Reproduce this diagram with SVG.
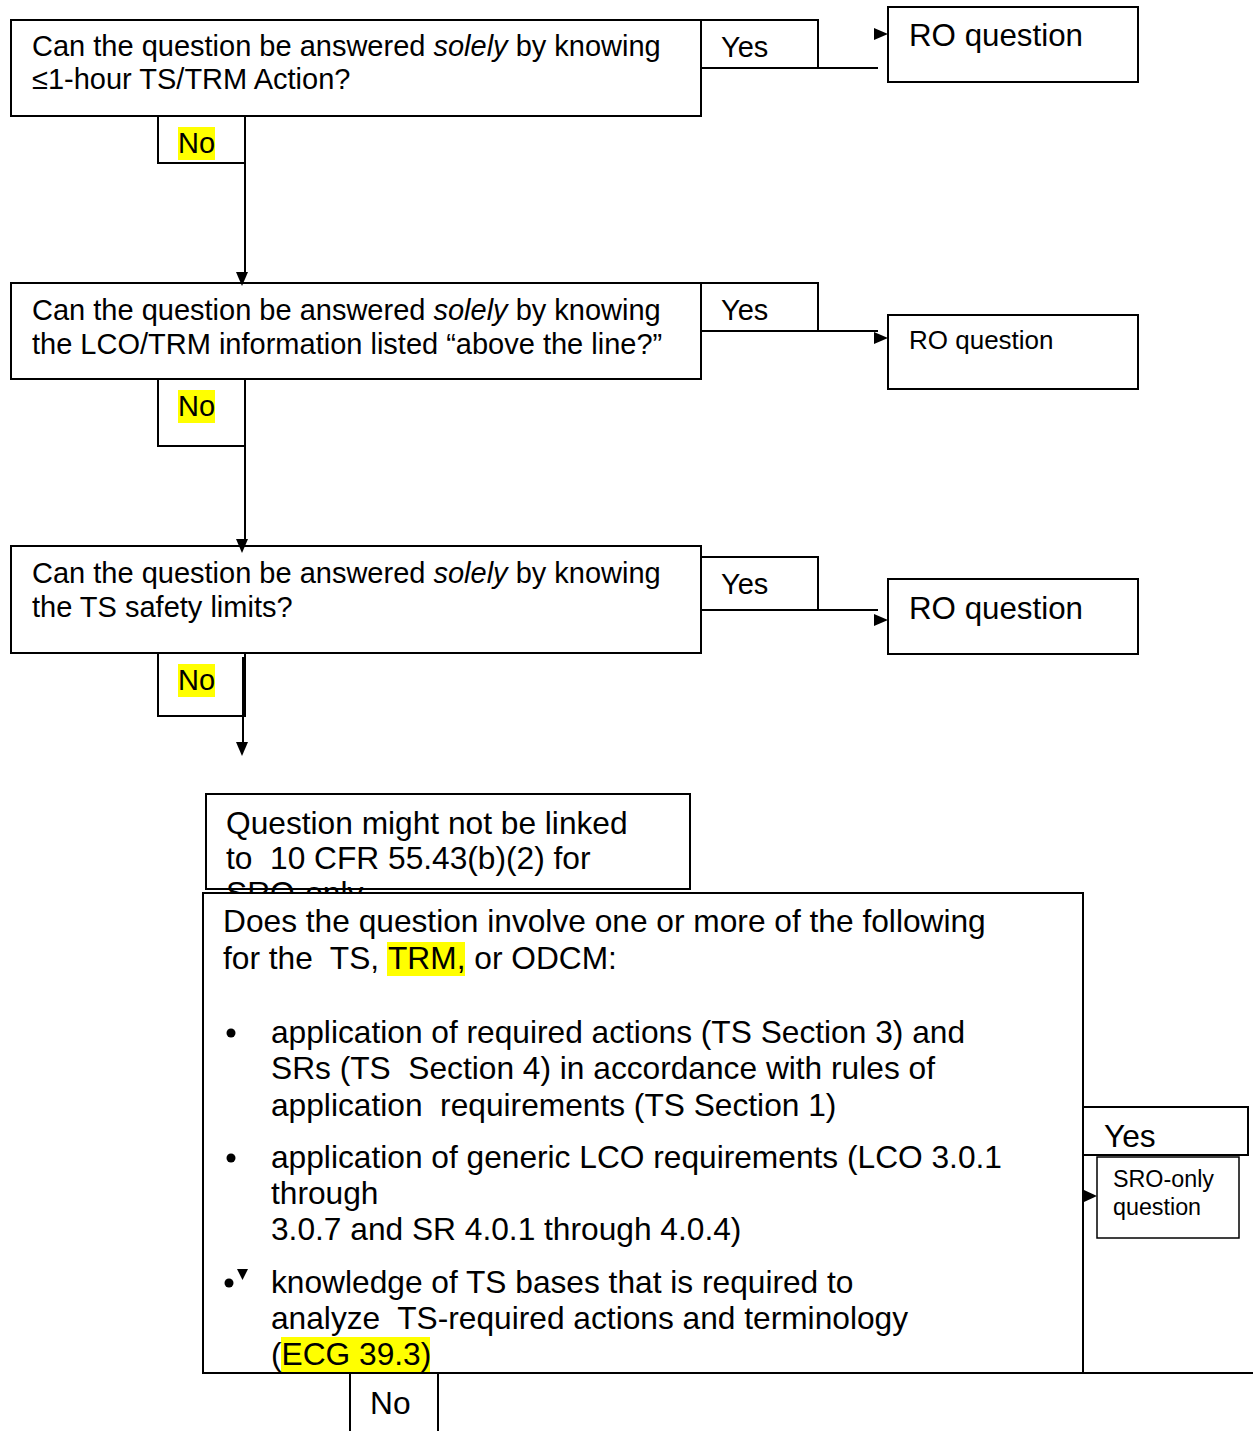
<svg xmlns="http://www.w3.org/2000/svg" width="1253" height="1431" viewBox="0 0 1253 1431">
  <style>
    text { font-family: "Liberation Sans", Arial, sans-serif; fill: #000; }
    .box { fill: #fff; stroke: #000; stroke-width: 2; }
    .tab { fill: none; stroke: #000; stroke-width: 2; }
    .thin { fill: #fff; stroke: #000; stroke-width: 1.5; }
    .line { fill: none; stroke: #000; stroke-width: 2; }
    .hl { fill: #ffff00; }
    .q { font-size: 29px; }
    .big { font-size: 31.7px; }
    .ro { font-size: 31.3px; }
    .ro-s { font-size: 26px; }
    .small { font-size: 23.3px; }
    .head { fill: #000; }
  </style>
  <defs>
    <!-- the note's overflowing last line only shows above the next box -->
    <clipPath id="note-clip">
      <rect x="206" y="860" width="484" height="32"/>
    </clipPath>
  </defs>

  <!-- Step 1: one-hour action check -->
  <g id="q1">
    <rect class="box" x="11" y="20" width="690" height="96"/>
    <text class="q" x="32" y="56">Can the question be answered <tspan font-style="italic">solely</tspan> by knowing</text>
    <text class="q" x="32" y="89">≤1-hour TS/TRM Action?</text>
  </g>
  <g id="q1-yes">
    <rect class="tab" x="701" y="20" width="117" height="48"/>
    <text class="q" x="721" y="57">Yes</text>
  </g>
  <g id="q1-no">
    <path class="tab" d="M158 116 V163 H245 V116"/>
    <rect class="hl" x="178" y="127" width="37" height="33"/>
    <text class="q" x="178" y="153">No</text>
  </g>
  <g id="ro1">
    <rect class="box" x="888" y="7" width="250" height="75"/>
    <text class="ro" x="909" y="46">RO question</text>
  </g>

  <!-- Step 2: above-the-line LCO/TRM information -->
  <g id="q2">
    <rect class="box" x="11" y="283" width="690" height="96"/>
    <text class="q" x="32" y="320">Can the question be answered <tspan font-style="italic">solely</tspan> by knowing</text>
    <text class="q" x="32" y="354">the LCO/TRM information listed “above the line?”</text>
  </g>
  <g id="q2-yes">
    <rect class="tab" x="701" y="283" width="117" height="48"/>
    <text class="q" x="721" y="320">Yes</text>
  </g>
  <g id="q2-no">
    <path class="tab" d="M158 379 V446 H245 V379"/>
    <rect class="hl" x="178" y="390" width="37" height="33"/>
    <text class="q" x="178" y="416">No</text>
  </g>
  <g id="ro2">
    <rect class="box" x="888" y="315" width="250" height="74"/>
    <text class="ro-s" x="909" y="349">RO question</text>
  </g>

  <!-- Step 3: safety limits -->
  <g id="q3">
    <rect class="box" x="11" y="546" width="690" height="107"/>
    <text class="q" x="32" y="583">Can the question be answered <tspan font-style="italic">solely</tspan> by knowing</text>
    <text class="q" x="32" y="617">the TS safety limits?</text>
  </g>
  <g id="q3-yes">
    <rect class="tab" x="701" y="557" width="117" height="53"/>
    <text class="q" x="721" y="594">Yes</text>
  </g>
  <g id="q3-no">
    <path class="tab" d="M158 653 V716 H245 V653"/>
    <rect class="hl" x="178" y="664" width="37" height="33"/>
    <text class="q" x="178" y="690">No</text>
  </g>
  <g id="ro3">
    <rect class="box" x="888" y="579" width="250" height="75"/>
    <text class="ro" x="909" y="619">RO question</text>
  </g>

  <!-- Note box, partly covered by the next step -->
  <g id="note">
    <rect class="box" x="206" y="794" width="484" height="95"/>
    <text class="big" x="226" y="834">Question might not be linked</text>
    <text class="big" x="226" y="869" xml:space="preserve">to  10 CFR 55.43(b)(2) for</text>
    <text class="big" x="226" y="904" clip-path="url(#note-clip)">SRO-only</text>
  </g>

  <!-- Step 4: SRO-level TS application -->
  <g id="q4">
    <rect class="box" x="203" y="893" width="880" height="480"/>
    <text class="big" x="223" y="932">Does the question involve one or more of the following</text>
    <rect class="hl" x="387" y="942" width="78" height="34"/>
    <text class="big" x="223" y="969" xml:space="preserve">for the  TS, <tspan x="388">TRM,</tspan> or ODCM:</text>

    <circle cx="231" cy="1033" r="4.5"/>
    <text class="big" x="271" y="1043">application of required actions (TS Section 3) and</text>
    <text class="big" x="271" y="1079" xml:space="preserve">SRs (TS  Section 4) in accordance with rules of</text>
    <text class="big" x="271" y="1116" xml:space="preserve">application  requirements (TS Section 1)</text>

    <circle cx="231" cy="1158" r="4.5"/>
    <text class="big" x="271" y="1168">application of generic LCO requirements (LCO 3.0.1</text>
    <text class="big" x="271" y="1204">through</text>
    <text class="big" x="271" y="1240">3.0.7 and SR 4.0.1 through 4.0.4)</text>

    <circle cx="229" cy="1283" r="4.5"/>
    <text class="big" x="271" y="1293">knowledge of TS bases that is required to</text>
    <text class="big" x="271" y="1329" xml:space="preserve">analyze  TS-required actions and terminology</text>
    <rect class="hl" x="281" y="1337" width="149" height="35"/>
    <text class="big" x="271" y="1365">(ECG 39.3)</text>
  </g>
  <g id="q4-yes">
    <rect class="tab" x="1083" y="1107" width="165" height="48"/>
    <text class="big" x="1104" y="1147">Yes</text>
  </g>
  <g id="q4-no">
    <path class="tab" d="M350 1431 V1373 M438 1373 V1431"/>
    <text class="big" x="370" y="1414">No</text>
  </g>
  <g id="sro">
    <rect class="thin" x="1097" y="1157" width="142" height="81"/>
    <text class="small" x="1113" y="1187">SRO-only</text>
    <text class="small" x="1113" y="1215">question</text>
  </g>

  <!-- Flow lines and arrowheads -->
  <g id="connectors">
    <path class="line" d="M818 68 H878"/>
    <path class="line" d="M818 331 H878"/>
    <path class="line" d="M818 610 H878"/>
    <path class="line" d="M245 163 V272"/>
    <path class="line" d="M245 446 V539"/>
    <path class="line" d="M243 657 V742"/>
    <path class="line" d="M203 1373 H1253"/>
    <polygon class="head" points="874,28 888,34 874,40"/>
    <polygon class="head" points="874,332 888,338 874,344"/>
    <polygon class="head" points="874,614 888,620 874,626"/>
    <polygon class="head" points="236,272 248,272 242,286"/>
    <polygon class="head" points="236,539 248,539 242,553"/>
    <polygon class="head" points="236,742 248,742 242,756"/>
    <polygon class="head" points="1084,1190 1097,1196 1084,1202"/>
    <polygon class="head" points="237,1269 248,1269 242.5,1280"/>
  </g>
</svg>
